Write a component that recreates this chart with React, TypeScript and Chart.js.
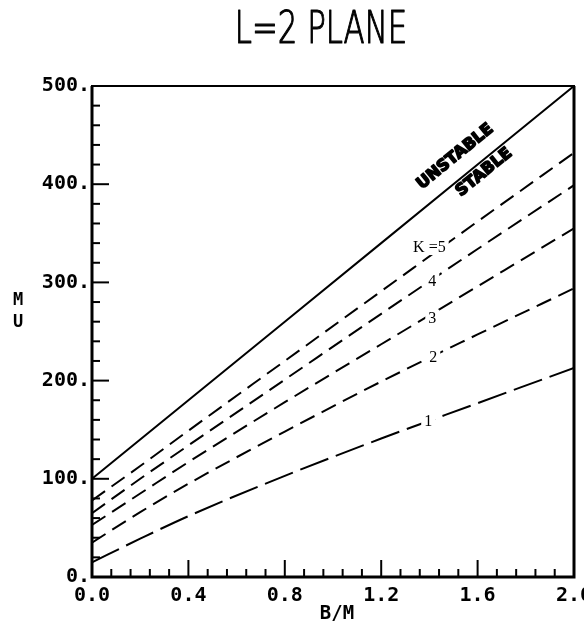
import React, { useEffect, useRef } from "react";
import { Chart, registerables } from "chart.js";

Chart.register(...registerables);

// ---- data ----
const bOverM = [0, 0.2, 0.4, 0.8, 1.2, 1.6, 2.0];
const boundary = [100, 140, 180, 260, 340, 420, 500];
const k5 = [78, 113, 149, 220, 291, 362, 432];
const k4 = [65, 100, 134, 201, 268, 334, 399];
const k3 = [53, 85, 117, 178, 237, 296, 355];
const k2 = [35, 66, 95, 148, 199, 247, 294];
const k1 = [15, 39, 62, 103, 141, 177, 213];

const kLabels = ["1", "2", "3", "4", "K =5"];
const kLabelX = [1.395, 1.416, 1.412, 1.412, 1.4];
const kLabelY = [159, 224, 264, 302, 336];

const regionLabels = ["UNSTABLE", "STABLE"];
const regionLabelX = [1.507, 1.627];
const regionLabelY = [428, 412];

const titleText = "L=2 PLANE";
const xTitle = "B/M";
const yTitleChars = ["M", "U"];

const xMin = 0, xMax = 2.0, xStep = 0.4, xMinorStep = 0.08;
const yMin = 0, yMax = 500, yStep = 100, yMinorStep = 20;

const MONO = '"DejaVu Sans Mono", monospace';

function pts(ys: number[]) {
  return bOverM.map((x, i) => ({ x, y: ys[i] }));
}

const decorPlugin = {
  id: "decor",
  afterDatasetsDraw(chart: any) {
    const { ctx, chartArea } = chart;
    const xs = chart.scales.x;
    const ys = chart.scales.y;
    ctx.save();
    // frame
    ctx.strokeStyle = "#000";
    ctx.lineWidth = 2;
    ctx.strokeRect(chartArea.left, chartArea.top, chartArea.right - chartArea.left, chartArea.bottom - chartArea.top);
    ctx.lineWidth = 3;
    ctx.beginPath();
    ctx.moveTo(chartArea.left, chartArea.top);
    ctx.lineTo(chartArea.left, chartArea.bottom);
    ctx.lineTo(chartArea.right, chartArea.bottom);
    ctx.lineTo(chartArea.right, chartArea.top);
    ctx.stroke();
    // inward ticks
    ctx.lineWidth = 2;
    const nx = Math.round((xMax - xMin) / xMinorStep);
    for (let i = 1; i < nx; i++) {
      const v = xMin + i * xMinorStep;
      const px = xs.getPixelForValue(v);
      const len = i % 5 === 0 ? 17 : 8;
      ctx.beginPath();
      ctx.moveTo(px, chartArea.bottom);
      ctx.lineTo(px, chartArea.bottom - len);
      ctx.stroke();
    }
    const ny = Math.round((yMax - yMin) / yMinorStep);
    for (let i = 1; i < ny; i++) {
      const v = yMin + i * yMinorStep;
      const py = ys.getPixelForValue(v);
      const len = i % 5 === 0 ? 17 : 8;
      ctx.beginPath();
      ctx.moveTo(chartArea.left, py);
      ctx.lineTo(chartArea.left + len, py);
      ctx.stroke();
    }
    // K labels on the curves
    ctx.font = '16px "Liberation Serif", serif';
    ctx.textAlign = "center";
    ctx.textBaseline = "middle";
    kLabels.forEach((t, i) => {
      const px = xs.getPixelForValue(kLabelX[i]);
      const py = ys.getPixelForValue(kLabelY[i]);
      const w = ctx.measureText(t).width;
      ctx.fillStyle = "#fff";
      ctx.fillRect(px - w / 2 - 3, py - 8, w + 6, 16);
      ctx.fillStyle = "#000";
      ctx.fillText(t, px, py + 1);
    });
    // UNSTABLE / STABLE along the boundary
    const p0x = xs.getPixelForValue(bOverM[0]);
    const p0y = ys.getPixelForValue(boundary[0]);
    const p1x = xs.getPixelForValue(bOverM[bOverM.length - 1]);
    const p1y = ys.getPixelForValue(boundary[boundary.length - 1]);
    const ang = Math.atan2(p1y - p0y, p1x - p0x);
    ctx.font = 'bold 16px "DejaVu Sans", sans-serif';
    ctx.lineWidth = 1.6;
    ctx.lineJoin = "round";
    ctx.strokeStyle = "#000";
    ctx.fillStyle = "#000";
    regionLabels.forEach((t, i) => {
      const px = xs.getPixelForValue(regionLabelX[i]);
      const py = ys.getPixelForValue(regionLabelY[i]);
      ctx.save();
      ctx.translate(px, py);
      ctx.rotate(ang);
      ctx.fillText(t, 0, 0);
      ctx.strokeText(t, 0, 0);
      ctx.restore();
    });
    // title (condensed, light)
    ctx.save();
    ctx.font = '200 44px "DejaVu Sans", sans-serif';
    ctx.textBaseline = "alphabetic";
    ctx.textAlign = "center";
    const sx = 0.7;
    ctx.scale(sx, 1);
    ctx.fillText(titleText, 321 / sx, 43);
    ctx.lineWidth = 1.2;
    ctx.strokeText(titleText, 321 / sx, 43);
    ctx.restore();
    // axis titles
    ctx.font = "bold 19px " + MONO;
    ctx.textAlign = "center";
    ctx.textBaseline = "middle";
    ctx.fillText(xTitle, (chartArea.left + chartArea.right) / 2 + 4, 614);
    const midY = ys.getPixelForValue(285);
    ctx.font = "bold 17px " + MONO;
    yTitleChars.forEach((c, i) => {
      ctx.fillText(c, 18, midY + 3 + i * 22);
    });
    ctx.restore();
  },
};

export default function App() {
  const ref = useRef<HTMLCanvasElement | null>(null);
  useEffect(() => {
    if (!ref.current) return;
    const dashed = (data: number[], dash: number[]) => ({
      data: pts(data),
      borderColor: "#000",
      borderWidth: 2,
      borderDash: dash,
      pointRadius: 0,
      fill: false,
      cubicInterpolationMode: "monotone" as const,
    });
    const chart = new Chart(ref.current, {
      type: "line",
      data: {
        datasets: [
          {
            label: "boundary",
            data: pts(boundary),
            borderColor: "#000",
            borderWidth: 2,
            pointRadius: 0,
            fill: false,
          },
          { label: "K=5", ...dashed(k5, [16, 8]) },
          { label: "K=4", ...dashed(k4, [16, 8]) },
          { label: "K=3", ...dashed(k3, [16, 8]) },
          { label: "K=2", ...dashed(k2, [16, 8]) },
          { label: "K=1", ...dashed(k1, [30, 8]) },
        ],
      },
      options: {
        animation: false,
        responsive: false,
        devicePixelRatio: 1,
        layout: { padding: { left: 0, right: 46, top: 86, bottom: 0 } },
        plugins: { legend: { display: false }, tooltip: { enabled: false }, title: { display: false } },
        scales: {
          x: {
            type: "linear",
            min: xMin,
            max: xMax,
            afterFit: (s: any) => { s.height = 50; },
            grid: { display: false, drawTicks: false },
            border: { display: false },
            ticks: {
              stepSize: xStep,
              padding: 7,
              autoSkip: false,
              maxRotation: 0,
              color: "#000",
              font: { family: MONO, size: 20, weight: "bold" },
              callback: (v: any) => Number(v).toFixed(1),
            },
          },
          y: {
            type: "linear",
            min: yMin,
            max: yMax,
            afterFit: (s: any) => { s.width = 92; },
            grid: { display: false, drawTicks: false },
            border: { display: false },
            ticks: {
              stepSize: yStep,
              padding: 2,
              color: "#000",
              font: { family: MONO, size: 20, weight: "bold" },
              callback: (v: any) => `${Math.round(Number(v))}.`,
            },
          },
        },
      },
      plugins: [decorPlugin],
    });
    return () => chart.destroy();
  }, []);
  return (
    <div style={{ position: "fixed", left: 0, top: 0, width: 584, height: 627, overflow: "hidden", background: "#fff" }}>
      <canvas ref={ref} width={620} height={627} style={{ display: "block" }} />
    </div>
  );
}
